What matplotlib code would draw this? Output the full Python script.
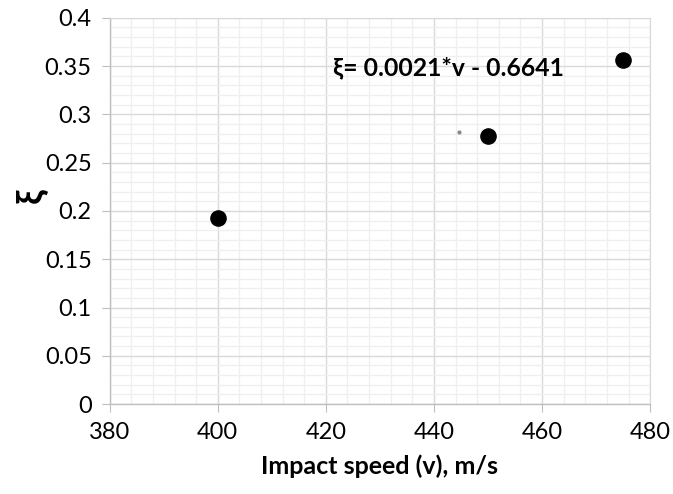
import matplotlib.pyplot as plt
from matplotlib.ticker import MultipleLocator

plt.rcParams['font.family'] = ['Lato', 'DejaVu Sans']

# impact speed (m/s) and xi
speed = [400, 450, 475]
xi = [0.1925, 0.2778, 0.3565]
# stray grey dot in the original picture
stray_x = [444.6]
stray_y = [0.282]

fig = plt.figure(figsize=(6.73, 4.94), dpi=100)
ax = fig.add_axes([0.163, 0.182, 0.803, 0.782])

ax.scatter(speed, xi, s=120, color='black', zorder=3)
ax.scatter(stray_x, stray_y, s=4, color='#888888', zorder=3)

ax.set_xlim(380, 480)
ax.set_ylim(0, 0.4)
ax.xaxis.set_major_locator(MultipleLocator(20))
ax.xaxis.set_minor_locator(MultipleLocator(4))
ax.yaxis.set_major_locator(MultipleLocator(0.05))
ax.yaxis.set_minor_locator(MultipleLocator(0.01))
ax.set_yticks([0, 0.05, 0.1, 0.15, 0.2, 0.25, 0.3, 0.35, 0.4])
ax.set_yticklabels(['0', '0.05', '0.1', '0.15', '0.2', '0.25', '0.3', '0.35', '0.4'])

ax.grid(which='major', color='#d9d9d9', linewidth=1.0)
ax.grid(which='minor', color='#efefef', linewidth=0.9)
ax.set_axisbelow(True)

for side in ['top', 'right']:
    ax.spines[side].set_color('#d9d9d9')
for side in ['left', 'bottom']:
    ax.spines[side].set_color('#bfbfbf')
    ax.spines[side].set_linewidth(1.0)

ax.tick_params(which='major', direction='out', length=6, color='#bfbfbf',
               labelsize=17, pad=7)
ax.tick_params(which='minor', length=0)

ax.set_xlabel('Impact speed (v), m/s', fontsize=18, fontweight='bold', labelpad=8)
ax.set_ylabel('ξ', fontsize=26, fontweight='bold', rotation=90)
ax.yaxis.set_label_coords(-0.115, 0.54)

ax.text(421.3, 0.348, 'ξ= 0.0021*v - 0.6641', fontsize=17.8, fontweight='bold',
        va='center', ha='left')

fig.savefig('out.png', dpi=100)
